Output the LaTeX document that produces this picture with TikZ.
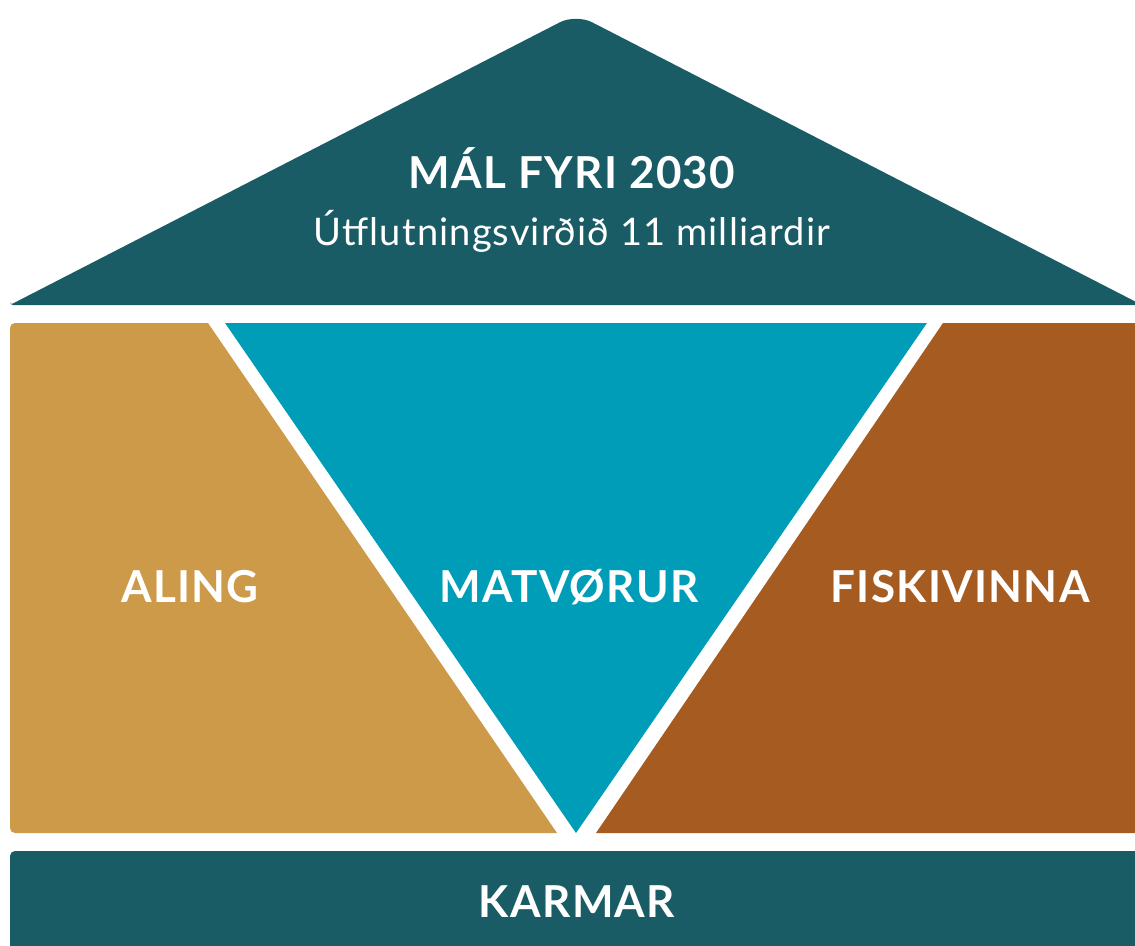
\documentclass[tikz,border=0pt]{standalone}
\usepackage{fontspec}
\setmainfont{Lato}
\usetikzlibrary{positioning}
\definecolor{housedark}{HTML}{1A5C66}
\definecolor{alinggold}{HTML}{CC9A48}
\definecolor{matvteal}{HTML}{009DB8}
\definecolor{fiskbrown}{HTML}{A65B21}
\newfontfamily\headfont[LetterSpace=3]{Lato}
\newfontfamily\subfont[LetterSpace=3]{Lato}
\tikzset{
  heading/.style={anchor=base, text=white, inner sep=0pt, font=\headfont\fontsize{44}{50}\selectfont\bfseries},
  subheading/.style={anchor=base, text=white, inner sep=0pt, font=\subfont\fontsize{38}{44}\selectfont},
  panel/.style={rounded corners=5pt}
}

\begin{document}
\begin{tikzpicture}[x=1pt, y=-1pt]
    \useasboundingbox (0,0) rectangle (1135,945);
    \clip (0,0) rectangle (1135,945);

    % Tak
    \fill[housedark] (10,305) [rounded corners=3pt] -- (10,305) [rounded corners=18pt] -- (576,14) [rounded corners=3pt] -- (1142,305) -- cycle;

    % Veggir
    \begin{scope}
      \clip (0,323) -- (208,323) -- (557,833) -- (0,833) -- cycle;
      \fill[alinggold, panel] (10,323) rectangle (600,833);
    \end{scope}
    \fill[matvteal] (225,323) -- (927,323) -- (576,833) -- cycle;
    \begin{scope}
      \clip (943,323) -- (1150,323) -- (1150,833) -- (596,833) -- cycle;
      \fill[fiskbrown, panel] (550,323) rectangle (1150,833);
    \end{scope}

    % Grunnur
    \fill[housedark, panel] (10,851) rectangle (1150,960);

    % Tekstir
    \node[heading] (goal) at (572,188) {MÁL FYRI 2030};
    \node[subheading] (value) at (572,245) {Útflutningsvirðið 11 milliardir};
    \node[heading] (aling) at (190,602) {ALING};
    \node[heading] (matvorur) at (569,602) {MATVØRUR};
    \node[heading] (fiskivinna) at (960,602) {FISKIVINNA};
    \node[heading] (karmar) at (577,917) {KARMAR};

\end{tikzpicture}
\end{document}
